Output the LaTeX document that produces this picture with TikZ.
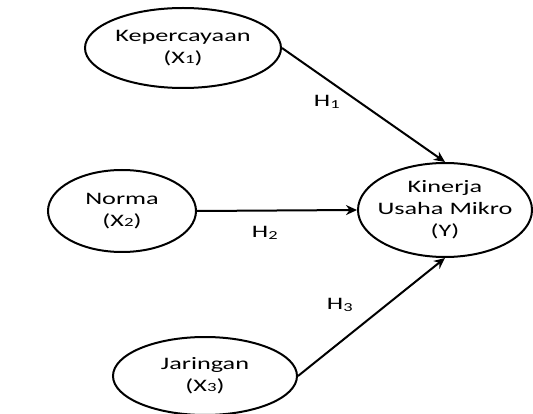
\documentclass[tikz,border=0pt]{standalone}
\usepackage{fontspec}
\setmainfont{Carlito}[FakeStretch=1.5]
\usepackage{tikz}
\usetikzlibrary{arrows.meta,shapes.geometric}
\newcommand{\sm}[1]{{\fontsize{12.5}{12.5}\selectfont #1}}

\begin{document}
\begin{tikzpicture}[x=1pt, y=-1pt,
  font=\fontsize{17.5}{22}\selectfont, >={Stealth[length=11pt, width=10pt]},
  var/.style={draw, ellipse, line width=2pt, align=center, inner sep=-10pt},
  lab/.style={inner sep=0pt}]
  \useasboundingbox (0,0) rectangle (533,414);
  \node[var, minimum width=196pt, minimum height=80pt] (x1) at (183,48) {Kepercayaan\\(X\sm{1})};
  \node[var, minimum width=148pt, minimum height=82pt] (x2) at (122,211) {Norma\\(X\sm{2})};
  \node[var, minimum width=184pt, minimum height=78pt] (x3) at (205,376) {Jaringan\\(X\sm{3})};
  \node[var, minimum width=174pt, minimum height=94pt] (y) at (445,210) {Kinerja\\Usaha Mikro\\(Y)};
  \draw[->, line width=2pt] (x1.east) -- (y.north);
  \draw[->, line width=2pt] (x2.east) -- (y.west);
  \draw[->, line width=2pt] (x3.east) -- (y.south);
  \node[lab] (h1) at (327,102) {H\textsubscript{1}};
  \node[lab] (h2) at (265,233) {H\textsubscript{2}};
  \node[lab] (h3) at (340,305) {H\textsubscript{3}};
\end{tikzpicture}
\end{document}
